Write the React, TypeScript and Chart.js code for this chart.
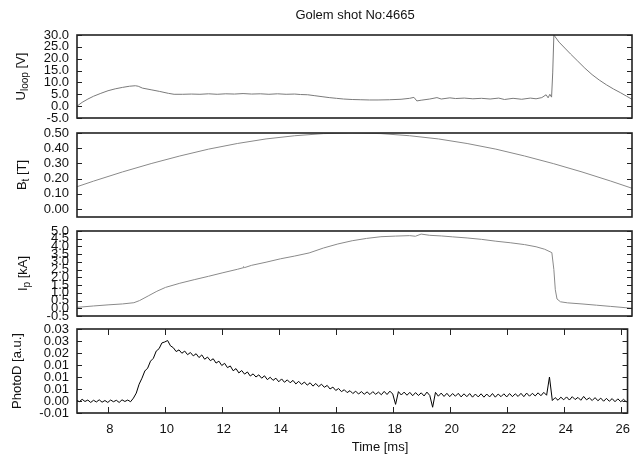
import React, { useEffect, useRef } from 'react';
import { Chart, registerables } from 'chart.js';

Chart.register(...registerables);

// ---------- data ----------
const xMin = 6.92;
const xMax = 26.24;
const xTickValues = [8, 10, 12, 14, 16, 18, 20, 22, 24, 26];

const uloopTime = [6.92, 7.1, 7.3, 7.5, 7.75, 8.0, 8.25, 8.5, 8.75, 8.95, 9.05, 9.2, 9.5, 9.8, 10.1, 10.3, 10.6, 10.9, 11.2, 11.5, 11.8, 12.1, 12.4, 12.7, 13.0, 13.3, 13.6, 13.9, 14.2, 14.5, 14.7, 14.95, 15.2, 15.45, 15.7, 15.95, 16.2, 16.5, 16.8, 17.1, 17.4, 17.8, 18.2, 18.5, 18.65, 18.75, 18.9, 19.2, 19.45, 19.6, 19.9, 20.1, 20.4, 20.7, 21.0, 21.3, 21.6, 21.8, 22.1, 22.4, 22.7, 22.9, 23.1, 23.25, 23.32, 23.38, 23.44, 23.48, 23.52, 23.7, 23.9, 24.1, 24.35, 24.6, 24.85, 25.1, 25.35, 25.6, 25.85, 26.05, 26.24];
const uloopValues = [0.0, 1.6, 3.0, 4.2, 5.4, 6.5, 7.3, 7.9, 8.4, 8.6, 8.4, 7.6, 6.9, 6.2, 5.4, 5.0, 5.0, 5.1, 5.0, 5.2, 5.0, 5.2, 5.1, 5.3, 5.1, 5.2, 5.0, 5.2, 5.0, 5.1, 4.9, 4.8, 4.4, 4.0, 3.6, 3.3, 3.0, 2.8, 2.7, 2.6, 2.6, 2.7, 2.9, 3.3, 3.7, 2.2, 2.5, 3.0, 3.6, 3.0, 3.5, 3.2, 3.4, 3.1, 3.3, 3.0, 3.4, 2.8, 3.3, 2.9, 3.4, 3.1, 3.6, 4.8, 3.5, 5.0, 3.8, 14.0, 30.0, 27.0, 24.5, 22.0, 19.0, 16.0, 13.3, 11.0, 9.0, 7.2, 5.6, 4.2, 2.9];
const uloopTicks = [-5, 0, 5, 10, 15, 20, 25, 30];
const uloopTickLabels = ['-5.0', '0.0', '5.0', '10.0', '15.0', '20.0', '25.0', '30.0'];

const btTime = [6.92, 7.5, 8.5, 9.5, 10.5, 11.5, 12.5, 13.5, 14.5, 15.5, 16.5, 17.5, 18.5, 19.5, 20.5, 21.5, 22.5, 23.5, 24.5, 25.5, 26.24];
const btValues = [0.147, 0.184, 0.244, 0.299, 0.349, 0.394, 0.431, 0.461, 0.482, 0.496, 0.5, 0.496, 0.482, 0.461, 0.431, 0.394, 0.349, 0.299, 0.244, 0.184, 0.137];
const btTicks = [0, 0.1, 0.2, 0.3, 0.4, 0.5];
const btTickLabels = ['0.00', '0.10', '0.20', '0.30', '0.40', '0.50'];

const ipTime = [6.92, 7.5, 8.0, 8.5, 8.9, 9.1, 9.4, 9.7, 10.0, 10.5, 11.0, 11.5, 12.0, 12.5, 12.7, 12.72, 12.75, 13.0, 13.5, 14.0, 14.5, 15.0, 15.5, 16.0, 16.5, 17.0, 17.5, 18.0, 18.5, 18.7, 18.9, 19.2, 19.6, 20.0, 20.5, 21.0, 21.5, 22.0, 22.5, 22.9, 23.2, 23.45, 23.52, 23.57, 23.63, 23.75, 24.0, 24.5, 25.0, 25.5, 26.0, 26.24];
const ipValues = [0.06, 0.15, 0.22, 0.28, 0.36, 0.5, 0.8, 1.1, 1.35, 1.62, 1.85, 2.07, 2.3, 2.52, 2.62, 2.7, 2.63, 2.78, 2.98, 3.2, 3.38, 3.58, 3.9, 4.16, 4.37, 4.52, 4.63, 4.67, 4.7, 4.66, 4.8, 4.72, 4.68, 4.62, 4.55, 4.46, 4.34, 4.24, 4.12, 3.98, 3.82, 3.6, 2.5, 1.2, 0.6, 0.42, 0.35, 0.28, 0.2, 0.12, 0.04, 0.0];
const ipTicks = [-0.5, 0, 0.5, 1, 1.5, 2, 2.5, 3, 3.5, 4, 4.5, 5];
const ipTickLabels = ['-0.5', '0.0', '0.5', '1.0', '1.5', '2.0', '2.5', '3.0', '3.5', '4.0', '4.5', '5.0'];

const photoStart = 6.9;
const photoStep = 0.1;
const photoValues = [
  0.0005, -0.0003, 0.0007, -0.0002, 0.0004, -0.0006, 0.0003, -0.0004, 0.0005, -0.0005,
  0.0002, -0.0006, 0.0004, -0.0003, 0.0003, -0.0006, 0.0005, -0.0002, 0.0004, -0.0003,
  0.0012, 0.0033, 0.0070, 0.0095, 0.0125, 0.0137, 0.0166, 0.0178, 0.0208, 0.0218,
  0.0242, 0.0246, 0.0252, 0.0230, 0.0222, 0.0206, 0.0213, 0.0199, 0.0208, 0.0193,
  0.0202, 0.0188, 0.0197, 0.0181, 0.0192, 0.0174, 0.0183, 0.0168, 0.0176, 0.0158,
  0.0166, 0.0148, 0.0157, 0.0139, 0.0146, 0.0126, 0.0135, 0.0117, 0.0127, 0.0112,
  0.0121, 0.0104, 0.0113, 0.0100, 0.0109, 0.0095, 0.0105, 0.0089, 0.0099, 0.0086,
  0.0095, 0.0080, 0.0092, 0.0078, 0.0088, 0.0076, 0.0086, 0.0071, 0.0082, 0.0069,
  0.0079, 0.0066, 0.0076, 0.0062, 0.0073, 0.0060, 0.0070, 0.0057, 0.0065, 0.0050,
  0.0058, 0.0044, 0.0052, 0.0039, 0.0047, 0.0035, 0.0043, 0.0031, 0.0041, 0.0029,
  0.0039, 0.0028, 0.0038, 0.0027, 0.0039, 0.0028, 0.0037, 0.0026, 0.0040, 0.0027,
  0.0041, 0.0029, -0.0014, 0.0039, 0.0025, 0.0037, 0.0024, 0.0036, 0.0022, 0.0035,
  0.0023, 0.0034, 0.0021, 0.0037, 0.0023, -0.0026, 0.0036, 0.0020, 0.0033, 0.0019,
  0.0032, 0.0018, 0.0031, 0.0020, 0.0032, 0.0017, 0.0030, 0.0018, 0.0031, 0.0016,
  0.0029, 0.0017, 0.0030, 0.0016, 0.0029, 0.0017, 0.0031, 0.0016, 0.0029, 0.0018,
  0.0030, 0.0017, 0.0031, 0.0018, 0.0030, 0.0019, 0.0032, 0.0018, 0.0033, 0.0020,
  0.0032, 0.0021, 0.0034, 0.0022, 0.0036, 0.0024, 0.0100, 0.0002, 0.0014, 0.0003,
  0.0016, 0.0005, 0.0017, 0.0004, 0.0018, 0.0006, 0.0015, 0.0003, 0.0019, 0.0005,
  0.0013, 0.0002, 0.0014, 0.0001, 0.0012, -0.0001, 0.0011, -0.0001, 0.0010, -0.0003,
  0.0009, -0.0003, 0.0007, -0.0004,
];
const photoTicks = [-0.005, 0, 0.005, 0.01, 0.015, 0.02, 0.025, 0.03];
const photoTickLabels = ['-0.01', '0.00', '0.01', '0.01', '0.01', '0.02', '0.03', '0.03'];

const titleText = 'Golem shot No:4665';
const xTitleText = 'Time [ms]';

// ---------- layout / style ----------
const W = 637;
const H = 456;
const FONT = '"Liberation Sans", Arial, Helvetica, sans-serif';
const FONT_SIZE = 13;
const PLOT_LEFT = 77;
const PLOT_RIGHT = 632;
const PAD = 22;

type Panel = {
  key: string;
  time: number[];
  values: number[];
  ticks: number[];
  tickLabels: string[];
  min: number;
  max: number;
  color: string;
  plotTop: number;
  plotBottom: number;
  label: [string, string, string];
  labelX: number;
  showX: boolean;
};

const photoTime = photoValues.map((_, i) => photoStart + i * photoStep);

const panels: Panel[] = [
  { key: 'u', time: uloopTime, values: uloopValues, ticks: uloopTicks, tickLabels: uloopTickLabels, min: -5, max: 30, color: '#7a7a7a', plotTop: 35, plotBottom: 118, label: ['U', 'loop', ' [V]'], labelX: 25, showX: false },
  { key: 'b', time: btTime, values: btValues, ticks: btTicks, tickLabels: btTickLabels, min: -0.052, max: 0.5, color: '#8a8a8a', plotTop: 133, plotBottom: 217, label: ['B', 't', ' [T]'], labelX: 26, showX: false },
  { key: 'i', time: ipTime, values: ipValues, ticks: ipTicks, tickLabels: ipTickLabels, min: -0.5, max: 5, color: '#8a8a8a', plotTop: 231, plotBottom: 316, label: ['I', 'p', ' [kA]'], labelX: 27, showX: false },
  { key: 'p', time: photoTime, values: photoValues, ticks: photoTicks, tickLabels: photoTickLabels, min: -0.005, max: 0.03, color: '#000000', plotTop: 329, plotBottom: 413, label: ['PhotoD [a.u.]', '', ''], labelX: 21, showX: true },
];

const framePlugin = {
  id: 'frame',
  afterDraw(chart: any, _args: any, opts: any) {
    const { ctx, chartArea } = chart;
    const { left, right, top, bottom } = chartArea;
    const ys = chart.scales.y;
    const xs = chart.scales.x;
    ctx.save();
    // inner ticks
    ctx.strokeStyle = '#222';
    ctx.lineWidth = 1;
    ctx.beginPath();
    for (const t of ys.ticks) {
      const py = Math.round(ys.getPixelForValue(t.value)) + 0.5;
      ctx.moveTo(left, py);
      ctx.lineTo(left + 5, py);
      ctx.moveTo(right, py);
      ctx.lineTo(right - 5, py);
    }
    if (opts.showX) {
      for (const t of xs.ticks) {
        const px = Math.round(xs.getPixelForValue(t.value)) + 0.5;
        ctx.moveTo(px, top);
        ctx.lineTo(px, top + 6);
        ctx.moveTo(px, bottom);
        ctx.lineTo(px, bottom - 6);
      }
    }
    ctx.stroke();
    // frame
    ctx.lineWidth = 1.6;
    ctx.strokeStyle = '#222';
    ctx.strokeRect(left, top, right - left, bottom - top);

    // y label with subscript, rotated
    const [main, sub, rest] = opts.label as [string, string, string];
    const big = `${FONT_SIZE}px ${FONT}`;
    const small = `${FONT_SIZE - 3}px ${FONT}`;
    ctx.fillStyle = '#111';
    ctx.textBaseline = 'alphabetic';
    ctx.textAlign = 'left';
    ctx.font = big;
    const w1 = ctx.measureText(main).width;
    const w3 = ctx.measureText(rest).width;
    ctx.font = small;
    const w2 = sub ? ctx.measureText(sub).width : 0;
    const total = w1 + w2 + w3;
    const cy = (top + bottom) / 2;
    ctx.translate(opts.labelX, cy);
    ctx.rotate(-Math.PI / 2);
    let x0 = -total / 2;
    ctx.font = big;
    ctx.fillText(main, x0, 0);
    x0 += w1;
    if (sub) {
      ctx.font = small;
      ctx.fillText(sub, x0, 3);
      x0 += w2;
    }
    ctx.font = big;
    if (rest) ctx.fillText(rest, x0, 0);
    ctx.restore();

    // titles
    ctx.save();
    ctx.fillStyle = '#111';
    ctx.font = `${FONT_SIZE}px ${FONT}`;
    ctx.textAlign = 'center';
    ctx.textBaseline = 'middle';
    if (opts.title) {
      ctx.fillText(opts.title, 355, 15 - opts.canvasTop);
    }
    if (opts.xTitle) {
      ctx.fillText(opts.xTitle, 380, 447 - opts.canvasTop);
    }
    ctx.restore();
  },
};

function PanelChart({ p, index }: { p: Panel; index: number }) {
  const ref = useRef<HTMLCanvasElement | null>(null);
  const canvasTop = index === 0 ? 0 : p.plotTop - PAD;
  const canvasBottom = p.showX ? H : p.plotBottom + PAD;
  const height = canvasBottom - canvasTop;
  useEffect(() => {
    if (!ref.current) return;
    const data = p.time.map((t, i) => ({ x: t, y: p.values[i] }));
    const chart = new Chart(ref.current, {
      type: 'line',
      data: {
        datasets: [
          {
            data,
            borderColor: p.color,
            borderWidth: 1,
            pointRadius: 0,
            tension: 0,
            fill: false,
          },
        ],
      },
      options: {
        responsive: false,
        animation: false,
        events: [],
        layout: {
          padding: {
            left: 0,
            right: W - PLOT_RIGHT,
            top: p.plotTop - canvasTop,
            bottom: p.showX ? 0 : canvasBottom - p.plotBottom,
          },
        },
        plugins: {
          legend: { display: false },
          tooltip: { enabled: false },
          frame: {
            label: p.label,
            labelX: p.labelX,
            showX: p.showX,
            canvasTop,
            title: index === 0 ? titleText : '',
            xTitle: p.showX ? xTitleText : '',
          },
        } as any,
        scales: {
          x: {
            type: 'linear',
            min: xMin,
            max: xMax,
            display: p.showX,
            grid: { display: false, drawTicks: false, tickLength: 0 },
            border: { display: false },
            afterBuildTicks: (s: any) => {
              s.ticks = xTickValues.map((v) => ({ value: v }));
            },
            afterFit: (s: any) => {
              s.height = p.showX ? canvasBottom - p.plotBottom : 0;
            },
            ticks: {
              padding: 9,
              labelOffset: 2,
              color: '#111',
              autoSkip: false,
              maxRotation: 0,
              font: { family: FONT, size: FONT_SIZE },
              callback: (v: any) => String(v),
            },
          },
          y: {
            type: 'linear',
            min: p.min,
            max: p.max,
            grid: { display: false, drawTicks: false, tickLength: 0 },
            border: { display: false },
            afterBuildTicks: (s: any) => {
              s.ticks = p.ticks.map((v) => ({ value: v }));
            },
            afterFit: (s: any) => {
              s.width = PLOT_LEFT;
            },
            ticks: {
              padding: 8,
              color: '#111',
              autoSkip: false,
              font: { family: FONT, size: FONT_SIZE },
              callback: (_v: any, i: number) => p.tickLabels[i],
            },
          },
        },
      },
      plugins: [framePlugin as any],
    });
    return () => chart.destroy();
  }, [p, index, canvasTop, canvasBottom]);
  return (
    <canvas
      ref={ref}
      width={W}
      height={height}
      style={{ position: 'absolute', left: 0, top: canvasTop, width: W, height, display: 'block' }}
    />
  );
}

export default function App() {
  return (
    <div style={{ position: 'fixed', left: 0, top: 0, width: W, height: H, background: '#fff', overflow: 'hidden' }}>
      {panels.map((p, i) => (
        <PanelChart key={p.key} p={p} index={i} />
      ))}
    </div>
  );
}
